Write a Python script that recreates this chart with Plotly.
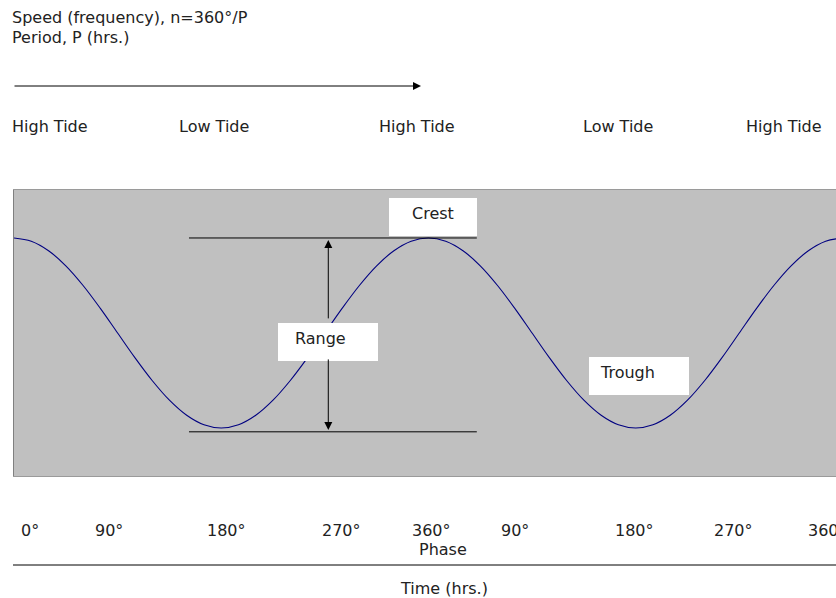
import plotly.graph_objects as go

# ---- data ----
phase_deg = list(range(0, 721, 15))
height = [1.0, 0.966, 0.866, 0.707, 0.5, 0.259, 0.0, -0.259, -0.5, -0.707, -0.866, -0.966, -1.0,
          -0.966, -0.866, -0.707, -0.5, -0.259, 0.0, 0.259, 0.5, 0.707, 0.866, 0.966, 1.0,
          0.966, 0.866, 0.707, 0.5, 0.259, 0.0, -0.259, -0.5, -0.707, -0.866, -0.966, -1.0,
          -0.966, -0.866, -0.707, -0.5, -0.259, 0.0, 0.259, 0.5, 0.707, 0.866, 0.966, 1.0]
phase_labels = ["0°", "90°", "180°", "270°", "360°", "90°", "180°", "270°", "360°"]
tide_labels = ["High Tide", "Low Tide", "High Tide", "Low Tide", "High Tide"]

# ---- layout helpers (pixel -> paper) ----
W, H = 836, 598
L, R, T, B = 14, 0, 190, 122
PW, PH = W - L - R, H - T - B
def px(x):
    return (x - L) / PW
def py(y):
    return (H - B - y) / PH

FONT = "DejaVu Sans, Verdana, sans-serif"
TXT = "#222222"
FS = 16

fig = go.Figure()
fig.add_trace(go.Scatter(x=phase_deg, y=height, mode="lines",
                         line=dict(color="#000080", width=1.1, shape="spline"),
                         hoverinfo="skip", showlegend=False))

ann = []
shapes = []

# top texts
ann.append(dict(text="Speed (frequency), n=360°/P", x=px(10), y=py(17), xanchor="left", yanchor="middle"))
ann.append(dict(text="Period, P (hrs.)", x=px(10), y=py(37), xanchor="left", yanchor="middle"))
# arrow along top
ann.append(dict(text="", x=px(421), y=py(86), ax=-408, ay=0, showarrow=True,
                arrowhead=2, arrowsize=1.6, arrowwidth=1, arrowcolor="#000000"))
tide_x = [50, 214, 417, 618, 784]
for t, xx in zip(tide_labels, tide_x):
    ann.append(dict(text=t, x=px(xx), y=py(126), xanchor="center", yanchor="middle"))

# phase labels
phase_x = [30, 109, 226, 341, 431, 515, 634, 733, 827]
for t, xx in zip(phase_labels, phase_x):
    ann.append(dict(text=t, x=px(xx), y=py(530), xanchor="center", yanchor="middle"))
ann.append(dict(text="Phase", x=px(443), y=py(549), xanchor="center", yanchor="middle"))
ann.append(dict(text="Time (hrs.)", x=px(444), y=py(588), xanchor="center", yanchor="middle"))
shapes.append(dict(type="line", xref="paper", yref="paper", x0=px(13), x1=px(836),
                   y0=py(565), y1=py(565), line=dict(color="#000000", width=1)))

# range lines
shapes.append(dict(type="line", xref="x", yref="y", x0=152, x1=402, y0=1.0, y1=1.0,
                   line=dict(color="#000000", width=1)))
shapes.append(dict(type="line", xref="x", yref="y", x0=152, x1=402, y0=-1.04, y1=-1.04,
                   line=dict(color="#000000", width=1)))
# range arrows
ann.append(dict(text="", x=273, y=0.98, xref="x", yref="y", ax=0, ay=80, showarrow=True,
                arrowhead=2, arrowsize=1.6, arrowwidth=1, arrowcolor="#000000"))
ann.append(dict(text="", x=273, y=-1.02, xref="x", yref="y", ax=0, ay=-72, showarrow=True,
                arrowhead=2, arrowsize=1.6, arrowwidth=1, arrowcolor="#000000"))

# label boxes
boxes = [("Crest", 389, 477, 198, 236, "center"),
         ("Range", 278, 378, 323, 361, "left"),
         ("Trough", 589, 689, 357, 395, "left")]
for t, x0, x1, y0, y1, al in boxes:
    shapes.append(dict(type="rect", xref="paper", yref="paper", x0=px(x0), x1=px(x1),
                       y0=py(y1), y1=py(y0), fillcolor="#ffffff", line=dict(width=0), layer="above"))

for t, x0, x1, y0, y1, al in boxes:
    if al == "center":
        ann.append(dict(text=t, x=px((x0 + x1) / 2), y=py(213), xanchor="center", yanchor="middle"))
    else:
        ann.append(dict(text=t, x=px(x0 + 15 if t == "Range" else x0 + 9), y=py(y0 + 15),
                        xanchor="left", yanchor="middle"))

for a in ann:
    a.setdefault("xref", "paper")
    a.setdefault("yref", "paper")
    a.setdefault("showarrow", False)
    a["font"] = dict(family=FONT, size=FS, color=TXT)

fig.update_layout(
    width=W, height=H,
    margin=dict(l=L, r=R, t=T, b=B),
    paper_bgcolor="#ffffff",
    plot_bgcolor="#c0c0c0",
    xaxis=dict(range=[0, 714], showgrid=False, zeroline=False, showticklabels=False, ticks="",
               showline=True, mirror=True, linecolor="#9a9a9a", linewidth=1, fixedrange=True),
    yaxis=dict(range=[-1.505, 1.505], showgrid=False, zeroline=False, showticklabels=False, ticks="",
               showline=True, linecolor="#808080", linewidth=1, fixedrange=True),
    annotations=ann,
    shapes=shapes,
    showlegend=False,
)
fig.write_html("out.html", config={"displayModeBar": False},
               post_script="document.body.style.margin='0';document.body.style.overflow='hidden';")
